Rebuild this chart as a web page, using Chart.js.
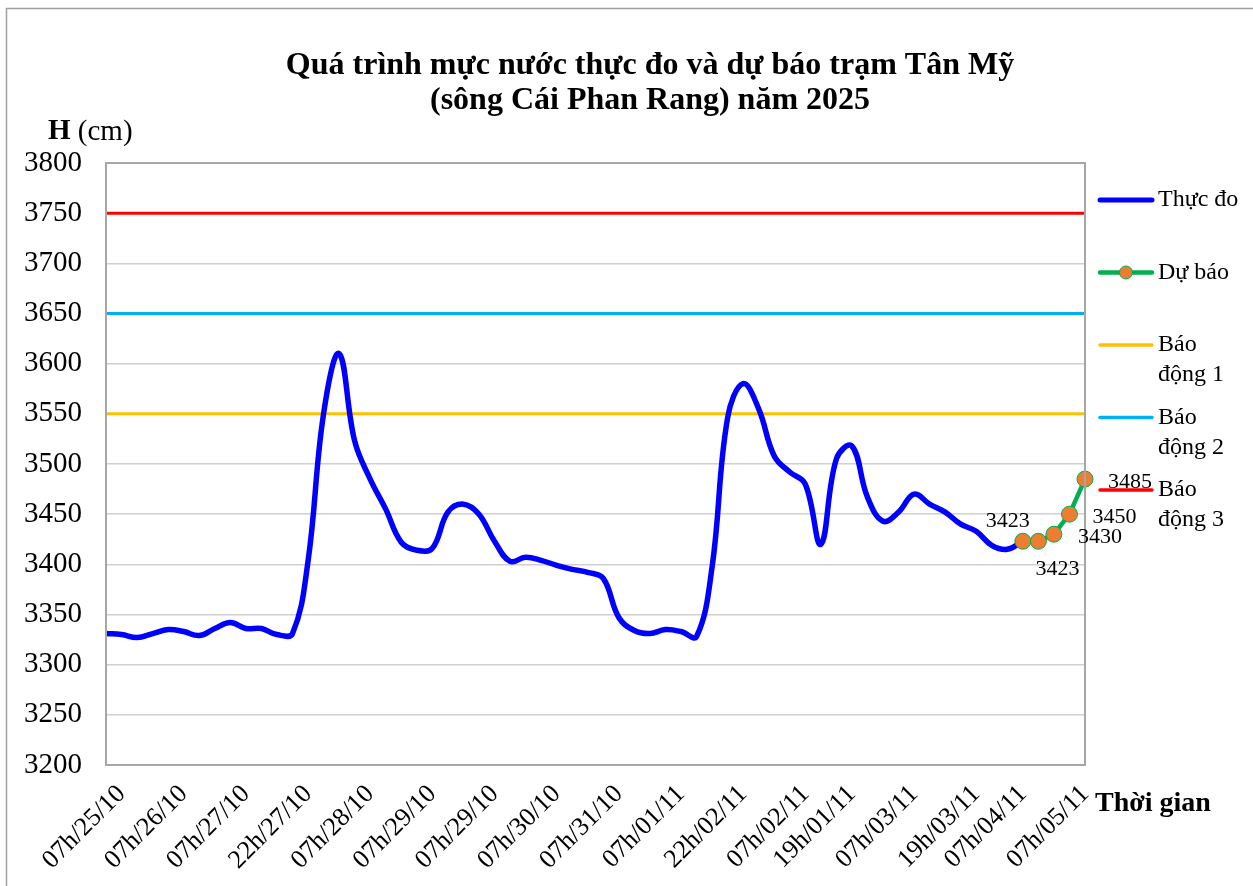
<!DOCTYPE html>
<html>
<head>
<meta charset="utf-8">
<script src="https://cdn.jsdelivr.net/npm/chart.js@4"></script>
<style>
  body { margin: 0; background: #fff; }
  #wrap { width: 1253px; height: 886px; }
</style>
</head>
<body>
<div id="wrap"><canvas id="waterChart" width="1253" height="886"></canvas></div>
<script>
// tick labels and the category index where each one sits (64 time steps)
const tickLabels = [
  "07h/25/10", "07h/26/10", "07h/27/10", "22h/27/10", "07h/28/10", "07h/29/10",
  "07h/29/10", "07h/30/10", "07h/31/10", "07h/01/11", "22h/02/11", "07h/02/11",
  "19h/01/11", "07h/03/11", "19h/03/11", "07h/04/11", "07h/05/11"
];
const tickIndex = [1, 5, 9, 13, 17, 21, 25, 29, 33, 37, 41, 45, 48, 52, 56, 59, 63];
const pointCount = 64;

// observed water level (cm), index 0..59
const observed = [
  3331, 3330, 3327, 3331, 3335, 3333, 3329, 3336, 3342, 3336,
  3336, 3330, 3331, 3403, 3550, 3610, 3523, 3485, 3455, 3422,
  3414, 3416, 3452, 3460, 3450, 3423, 3403, 3407, 3404, 3399,
  3395, 3392, 3386, 3347, 3334, 3331, 3335, 3333, 3328, 3397,
  3546, 3580, 3555, 3508, 3492, 3480, 3420, 3505, 3518, 3467,
  3443, 3452, 3470, 3460, 3452, 3440, 3433, 3419, 3415, 3423
];
// forecast, starting at index 59
const forecastStart = 59;
const forecast = [3423, 3423, 3430, 3450, 3485];

// alarm levels
const alarm1 = 3550;
const alarm2 = 3650;
const alarm3 = 3750;

const serif = "'Liberation Serif', 'Times New Roman', serif";

let labels = new Array(pointCount).fill("");
for (let i = 0; i < tickIndex.length; i++) {
  labels[tickIndex[i]] = tickLabels[i];
}
let observedData = labels.map((l, i) => (i < observed.length ? observed[i] : null));
let forecastData = labels.map((l, i) =>
  i >= forecastStart && i - forecastStart < forecast.length ? forecast[i - forecastStart] : null
);
let flat = (v) => labels.map(() => v);

// label offsets for the forecast values
const forecastLabelOffset = [
  [-15, -20], [19, 28], [46, 3], [45, 3], [45, 3]
];

const frame = {
  id: "frame",
  beforeDraw(chart) {
    const { ctx } = chart;
    ctx.save();
    ctx.fillStyle = "#fff";
    ctx.fillRect(0, 0, chart.width, chart.height);
    ctx.strokeStyle = "#A0A0A0";
    ctx.lineWidth = 1.5;
    ctx.strokeRect(6.5, 8.5, chart.width + 10, chart.height + 10);
    ctx.restore();
  },
  afterDraw(chart) {
    const { ctx, chartArea: a } = chart;
    ctx.save();
    ctx.strokeStyle = "#A6A6A6";
    ctx.lineWidth = 2;
    ctx.strokeRect(a.left, a.top, a.right - a.left, a.bottom - a.top);

    // title
    ctx.fillStyle = "#000";
    ctx.textAlign = "center";
    ctx.textBaseline = "middle";
    ctx.font = "bold 32px " + serif;
    ctx.fillText("Quá trình mực nước thực đo và dự báo trạm Tân Mỹ", 650, 66);
    ctx.fillText("(sông Cái Phan Rang) năm 2025", 650, 101);

    // axis titles
    ctx.textAlign = "left";
    ctx.font = "bold 29px " + serif;
    ctx.fillText("H", 48, 132);
    let hw = ctx.measureText("H ").width;
    ctx.font = "29px " + serif;
    ctx.fillText("(cm)", 48 + hw, 132);
    ctx.font = "bold 28px " + serif;
    ctx.fillText("Thời gian", 1095, 804);

    // forecast value labels
    const meta = chart.getDatasetMeta(1);
    ctx.font = "22px " + serif;
    ctx.textAlign = "center";
    for (let k = 0; k < forecast.length; k++) {
      const p = meta.data[forecastStart + k];
      const off = forecastLabelOffset[k];
      ctx.fillText(String(forecast[k]), p.x + off[0], p.y + off[1]);
    }

    // legend
    ctx.font = "24px " + serif;
    ctx.textAlign = "left";
    let y = 200;
    chart.data.datasets.forEach((ds) => {
      ctx.strokeStyle = ds.borderColor;
      ctx.lineWidth = ds.legendWidth;
      ctx.lineCap = "round";
      ctx.beginPath();
      ctx.moveTo(1100, y);
      ctx.lineTo(1152, y);
      ctx.stroke();
      if (ds.pointRadius > 0) {
        ctx.beginPath();
        ctx.arc(1126, y, 6.5, 0, Math.PI * 2);
        ctx.fillStyle = ds.pointBackgroundColor;
        ctx.fill();
        ctx.lineWidth = 1;
        ctx.strokeStyle = ds.pointBorderColor;
        ctx.stroke();
      }
      ctx.fillStyle = "#000";
      const words = ds.label.split(" ");
      let lines = [];
      let cur = "";
      words.forEach((w) => {
        const test = cur ? cur + " " + w : w;
        if (ctx.measureText(test).width > 88 && cur) {
          lines.push(cur);
          cur = w;
        } else {
          cur = test;
        }
      });
      lines.push(cur);
      lines.forEach((t, li) => ctx.fillText(t, 1158, y + li * 30));
      y += 72.5;
    });
    ctx.restore();
  },
};

const ctx = document.getElementById("waterChart").getContext("2d");
new Chart(ctx, {
  type: "line",
  data: {
    labels: labels,
    datasets: [
      {
        label: "Thực đo",
        data: observedData,
        borderColor: "#0000FF",
        borderWidth: 5.5,
        legendWidth: 5,
        tension: 0.4,
        pointRadius: 0,
        spanGaps: false,
        order: 1,
      },
      {
        label: "Dự báo",
        data: forecastData,
        borderColor: "#00B050",
        borderWidth: 4.5,
        legendWidth: 4.5,
        tension: 0,
        pointRadius: 8,
        pointBackgroundColor: "#ED7D31",
        pointBorderColor: "#00B050",
        pointBorderWidth: 1,
        order: 0,
      },
      {
        label: "Báo động 1",
        data: flat(alarm1),
        borderColor: "#FFC000",
        borderWidth: 3,
        legendWidth: 3.5,
        pointRadius: 0,
        order: 2,
      },
      {
        label: "Báo động 2",
        data: flat(alarm2),
        borderColor: "#00B0F0",
        borderWidth: 3,
        legendWidth: 3.5,
        pointRadius: 0,
        order: 3,
      },
      {
        label: "Báo động 3",
        data: flat(alarm3),
        borderColor: "#FF0000",
        borderWidth: 3,
        legendWidth: 3.5,
        pointRadius: 0,
        order: 4,
      },
    ],
  },
  options: {
    responsive: false,
    animation: false,
    layout: { padding: { left: 0, top: 163, right: 168, bottom: 0 } },
    plugins: {
      legend: { display: false },
      title: { display: false },
      tooltip: { enabled: false },
    },
    scales: {
      x: {
        afterFit: (s) => { s.height = 121; },
        grid: { display: false, drawTicks: false },
        border: { display: false },
        ticks: {
          autoSkip: false,
          minRotation: 45,
          maxRotation: 45,
          padding: 14,
          color: "#000",
          font: { family: serif, size: 26 },
        },
      },
      y: {
        min: 3200,
        max: 3800,
        afterFit: (s) => { s.width = 106; },
        grid: { color: "#D0D0D0", lineWidth: 1.5, drawTicks: false },
        border: { display: false },
        ticks: {
          stepSize: 50,
          padding: 24,
          color: "#000",
          font: { family: serif, size: 29 },
          callback: (v) => String(v),
        },
      },
    },
  },
  plugins: [frame],
});
</script>
</body>
</html>
